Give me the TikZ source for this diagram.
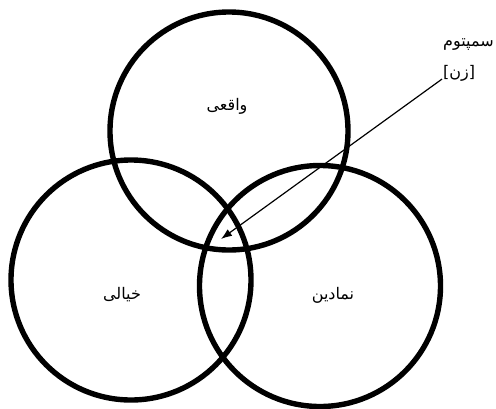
\documentclass[tikz,border=0pt]{standalone}
\usepackage{fontspec}
\newfontfamily\arabicfont[Script=Arabic]{DejaVu Sans}
\TeXXeTstate=1
\usepackage{tikz}
\usetikzlibrary{positioning,arrows.meta}

\begin{document}
\begin{tikzpicture}[
    x=1pt, y=-1pt,
    ring/.style={draw, circle, line width=5.4pt, minimum size=#1, inner sep=0pt},
    lbl/.style={font=\arabicfont\fontsize{16}{19}\selectfont, inner sep=1pt},
    arr/.style={-{Latex[length=11pt,width=8pt]}, line width=1.2pt},
  ]
  \useasboundingbox (0,0) rectangle (496,408);

  % Three rings
  \node[ring=238pt] (real) at (229,131) {};
  \node[ring=240pt] (imag) at (131,280) {};
  \node[ring=241pt] (symb) at (320,286) {};

  % Ring labels
  \node[lbl] (realtxt) at (227,106) {\beginR واقعی\endR};
  \node[lbl] (imagtxt) at (122,295) {\beginR خیالی\endR};
  \node[lbl] (symbtxt) at (333,295) {\beginR نمادین\endR};

  % Symptom pointer (into the common centre)
  \node[lbl, anchor=west, align=left] (symptom) at (442,60)
    {\beginR سمپتوم\endR\\[12pt]\beginR [زن]\endR};
  \coordinate (core) at (221,239);
  \draw[arr] (symptom) -- (core);

\end{tikzpicture}
\end{document}
